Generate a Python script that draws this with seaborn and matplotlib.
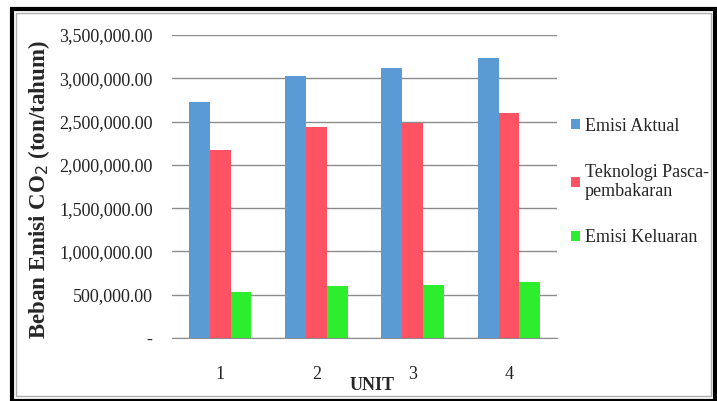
import matplotlib
matplotlib.use("Agg")
import matplotlib.pyplot as plt
from matplotlib.patches import Rectangle
from matplotlib.ticker import FuncFormatter
import seaborn as sns
import pandas as pd

units = ["1", "2", "3", "4"]
emisi_aktual = [2726000, 3026000, 3115000, 3231000]
teknologi_pasca = [2172000, 2434000, 2487000, 2595000]
emisi_keluaran = [535000, 600000, 612000, 643000]
series_names = ["Emisi Aktual", "Teknologi Pasca-\npembakaran", "Emisi Keluaran"]
colors = ["#5B9BD5", "#FF5262", "#2CEE2C"]

rows = []
for name, vals in zip(series_names, [emisi_aktual, teknologi_pasca, emisi_keluaran]):
    for u, v in zip(units, vals):
        rows.append({"UNIT": u, "value": v, "series": name})
df = pd.DataFrame(rows)

sns.set_style("white")
plt.rcParams["font.family"] = ["Liberation Serif", "DejaVu Serif"]

fig = plt.figure(figsize=(7.17, 4.01), dpi=100)
ax = fig.add_axes([0.240, 0.157, 0.537, 0.756])

sns.barplot(data=df, x="UNIT", y="value", hue="series", hue_order=series_names,
            palette=colors, width=0.65, saturation=1, ax=ax, errorbar=None,
            edgecolor="none", linewidth=0)

ax.set_ylim(0, 3500000)
ax.set_yticks(range(0, 3500001, 500000))
ax.yaxis.set_major_formatter(FuncFormatter(lambda v, p: "-" if v == 0 else f"{v:,.2f}"))
ax.yaxis.grid(True, color="#8c8c8c", linewidth=1)
ax.set_axisbelow(True)
for s in ["left", "top", "right"]:
    ax.spines[s].set_visible(False)
ax.spines["bottom"].set_color("#8c8c8c")
ax.tick_params(axis="y", labelsize=13, length=0, pad=14, labelcolor="#222222")
ax.tick_params(axis="x", labelsize=13, length=0, pad=20, labelcolor="#222222")

ax.set_ylabel("Beban Emisi CO$_2$ (ton/tahum)", fontsize=16.5, fontweight="bold")
ax.yaxis.set_label_coords(-0.312, 0.49)
ax.set_xlabel("UNIT", fontsize=13, fontweight="bold")
ax.xaxis.set_label_coords(0.52, -0.13)

ax.legend(loc="center left", bbox_to_anchor=(0.995, 0.515), frameon=False,
          fontsize=13, handlelength=0.5, handleheight=0.5, handletextpad=0.25,
          labelspacing=1.6)

# framed border around the figure
fig.patches.append(Rectangle((0.017, 0.0), 0.98, 0.978, transform=fig.transFigure,
                             fill=False, edgecolor="black", linewidth=3))
fig.patches.append(Rectangle((0.023, 0.012), 0.968, 0.955, transform=fig.transFigure,
                             fill=False, edgecolor="#b0b0b0", linewidth=1))

fig.savefig("out.png", dpi=100)
